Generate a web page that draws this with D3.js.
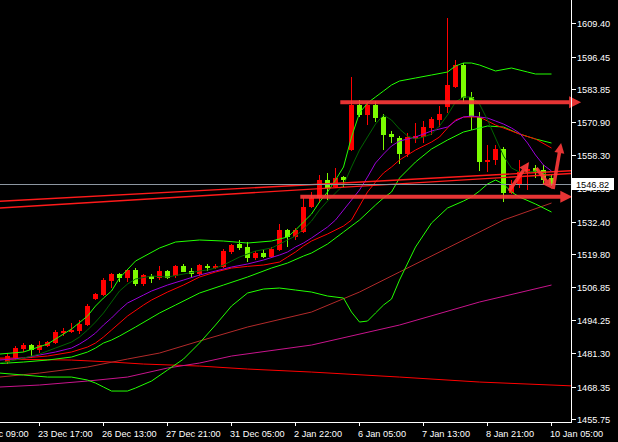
<!DOCTYPE html>
<html><head><meta charset="utf-8">
<script src="https://cdn.jsdelivr.net/npm/d3@7"></script>
<style>html,body{margin:0;padding:0;background:#000;overflow:hidden}</style>
</head><body><svg id="c" width="618" height="442"></svg>
<script>
// ---- candle data (H4 bars, index 0..68) ----
const opens=[1477.87,1479.42,1482.92,1484.47,1482.53,1484.08,1485.25,1489.13,1489.52,1489.91,
1492.24,1502.33,1503.89,1509.32,1512.04,1510.49,1513.60,1508.16,1511.27,1510.49,
1513.21,1511.27,1515.15,1513.21,1512.04,1515.15,1514.37,1514.76,1520.59,1523.69,
1522.53,1518.26,1520.20,1518.64,1521.36,1529.13,1526.41,1528.35,1538.06,1541.56,
1548.55,1545.83,1549.71,1560.20,1577.67,1573.79,1577.67,1573.01,1566.41,1564.86,
1558.64,1564.47,1565.25,1568.74,1571.85,1576.90,1584.66,1593.21,1580.78,1573.01,
1555.54,1556.31,1560.59,1543.50,1546.61,1551.27,1553.21,1552.43,1549.32];
const highs=[1481.36,1484.08,1485.25,1484.86,1486.02,1486.02,1490.29,1491.07,1493.01,1494.18,
1500.39,1504.66,1510.49,1512.43,1512.43,1513.98,1514.37,1512.04,1512.04,1515.15,
1513.60,1515.54,1515.93,1514.37,1515.93,1515.93,1515.93,1521.75,1523.69,1525.25,
1524.47,1520.97,1521.36,1522.53,1531.46,1529.52,1529.91,1541.56,1543.89,1550.49,
1551.27,1553.21,1550.10,1588.55,1579.61,1578.84,1579.23,1574.18,1567.58,1565.63,
1566.80,1570.68,1571.46,1573.01,1577.28,1611.46,1595.15,1593.98,1582.72,1574.95,
1562.14,1562.14,1561.36,1548.55,1556.31,1555.15,1554.37,1554.37,1550.49];
const lows=[1477.09,1478.64,1481.75,1479.42,1481.36,1483.69,1484.86,1487.96,1489.13,1488.74,
1491.85,1501.94,1503.50,1506.61,1508.94,1508.94,1507.38,1507.38,1508.55,1509.71,
1510.10,1510.49,1512.82,1510.88,1511.27,1513.21,1513.98,1514.37,1519.81,1521.36,
1516.70,1517.48,1518.26,1518.26,1520.97,1522.53,1525.25,1527.96,1537.67,1539.61,
1540.78,1545.44,1545.83,1559.81,1573.01,1569.91,1571.07,1560.20,1562.92,1554.76,
1557.48,1562.92,1562.92,1566.02,1569.13,1574.57,1584.28,1578.84,1567.96,1552.04,
1551.65,1554.37,1540.00,1543.11,1545.44,1544.66,1549.32,1546.61,1546.22];
const closes=[1480.20,1483.30,1484.47,1482.53,1484.47,1485.63,1489.52,1489.91,1490.29,1492.62,
1499.61,1504.28,1509.71,1512.04,1510.49,1513.60,1508.16,1511.65,1510.10,1513.21,
1510.49,1515.15,1512.82,1512.04,1515.54,1514.37,1515.15,1520.97,1523.30,1522.14,
1518.26,1520.20,1518.64,1521.75,1529.13,1526.41,1529.13,1538.06,1541.56,1548.55,
1545.44,1549.32,1548.55,1577.67,1573.79,1577.67,1572.62,1566.02,1565.25,1558.64,
1565.25,1565.63,1569.13,1572.24,1574.18,1585.44,1593.21,1580.39,1573.01,1555.54,
1556.31,1560.59,1543.50,1546.61,1551.65,1552.82,1551.65,1548.55,1546.82];
const lastPrice=1546.82;

// ---- axis labels ----
const xTickLabels=["22 Dec 09:00","23 Dec 17:00","26 Dec 13:00","27 Dec 21:00","31 Dec 05:00",
"2 Jan 22:00","6 Jan 05:00","7 Jan 13:00","8 Jan 21:00","10 Jan 05:00"];
const yTickValues=[1609.40,1596.45,1583.85,1570.90,1558.30,1545.35,1532.40,1519.80,1506.85,1494.25,1481.30,1468.35,1455.75];

// ---- indicator series: [bar index, price] ----
const bbUpper=[[-1,1480.97],[2,1481.75],[5,1484.86],[8,1490.68],[10,1495.73],[11,1499.61],[12,1502.72],[13,1505.44],[14,1510.49],[16,1517.09],[19,1522.14],[21,1524.47],[24,1525.25],[27,1524.86],[30,1524.08],[33,1524.86],[35,1526.41],[36,1529.13],[37,1532.24],[38,1535.34],[39,1540.00],[40,1543.89],[41,1548.55],[42,1553.60],[43,1565.25],[44,1574.57],[45,1578.45],[46,1580.78],[47,1583.11],[48,1585.44],[49,1586.99],[51,1588.16],[53,1589.32],[55,1590.49],[56,1592.82],[57,1593.98],[58,1593.98],[59,1593.21],[61,1590.88],[63,1592.04],[65,1590.49],[66,1589.71],[68,1589.71]];
const bbMiddle=[[-1,1477.28],[2,1477.87],[5,1478.64],[8,1479.81],[10,1481.75],[11,1483.30],[12,1485.25],[13,1486.41],[14,1487.96],[16,1491.46],[19,1496.90],[21,1500.00],[24,1504.66],[27,1507.77],[30,1510.88],[33,1514.37],[35,1516.31],[37,1519.03],[38,1520.20],[40,1523.69],[42,1528.35],[44,1533.01],[46,1538.84],[47,1541.56],[48,1543.89],[49,1549.32],[51,1555.54],[53,1560.59],[55,1564.08],[57,1567.19],[58,1567.96],[60,1569.52],[62,1569.13],[64,1566.41],[66,1564.47],[68,1562.92]];
const bbLower=[[-1,1473.59],[2,1472.82],[5,1472.04],[8,1472.04],[10,1470.88],[11,1469.71],[12,1468.16],[13,1466.61],[15,1466.61],[16,1467.77],[18,1470.49],[20,1474.76],[22,1479.03],[24,1485.25],[26,1492.24],[28,1499.61],[30,1504.66],[32,1506.22],[34,1506.61],[36,1505.83],[38,1505.05],[40,1503.50],[42,1502.72],[43,1497.28],[44,1493.40],[45,1493.79],[46,1496.90],[47,1500.00],[48,1502.33],[49,1509.71],[51,1522.53],[53,1531.85],[55,1537.67],[57,1540.39],[58,1541.95],[59,1544.28],[60,1546.99],[61,1548.55],[62,1546.99],[63,1543.89],[64,1541.95],[66,1539.23],[68,1536.12]];
const maFast=[[-1,1477.48],[1,1478.64],[4,1480.97],[6,1483.30],[8,1485.63],[9,1487.58],[10,1490.29],[11,1493.40],[12,1496.90],[13,1501.17],[14,1505.44],[15,1508.16],[16,1510.10],[18,1511.27],[20,1510.88],[22,1512.04],[24,1513.21],[25,1513.60],[26,1514.37],[27,1515.54],[28,1517.09],[29,1518.64],[30,1519.81],[31,1520.97],[33,1522.14],[34,1523.69],[35,1525.25],[36,1526.80],[37,1529.52],[38,1532.62],[39,1536.90],[40,1540.39],[41,1543.50],[42,1546.61],[43,1553.60],[44,1560.20],[45,1565.25],[46,1570.29],[47,1573.79],[48,1571.85],[49,1568.35],[50,1565.63],[51,1564.47],[52,1565.25],[53,1566.41],[54,1569.52],[55,1573.79],[56,1578.84],[57,1580.78],[58,1580.78],[59,1578.06],[60,1571.85],[61,1564.86],[62,1557.87],[63,1553.21],[64,1551.65],[65,1551.65],[66,1552.04],[67,1551.27],[68,1549.71]];
const maPurple=[[-1,1478.64],[2,1479.42],[4,1480.59],[6,1481.75],[8,1483.30],[9,1484.86],[10,1486.80],[11,1489.13],[12,1492.24],[13,1494.95],[14,1498.06],[15,1500.78],[17,1503.89],[18,1505.44],[20,1507.77],[22,1509.71],[24,1511.65],[26,1513.21],[28,1514.76],[30,1515.93],[32,1517.48],[34,1519.42],[35,1520.59],[36,1522.53],[37,1524.08],[38,1526.02],[40,1530.29],[41,1533.01],[42,1536.90],[43,1540.78],[44,1544.66],[45,1549.71],[46,1555.15],[47,1558.64],[48,1561.75],[49,1563.69],[51,1565.25],[53,1567.58],[55,1569.13],[56,1571.46],[57,1573.01],[58,1573.40],[59,1573.01],[60,1572.62],[61,1571.46],[62,1570.29],[63,1568.74],[64,1566.80],[65,1562.92],[66,1558.26],[67,1554.37],[68,1552.04]];
const maRed=[[-1,1479.42],[2,1479.42],[5,1480.20],[8,1481.75],[10,1483.69],[11,1485.25],[12,1487.58],[13,1490.29],[15,1495.73],[17,1500.00],[18,1501.94],[20,1505.05],[22,1507.77],[24,1510.88],[26,1512.82],[28,1514.37],[30,1515.01],[32,1515.54],[34,1516.70],[35,1518.64],[36,1520.59],[37,1522.92],[38,1524.86],[40,1527.58],[42,1530.68],[43,1533.01],[44,1538.45],[45,1543.89],[46,1547.77],[47,1551.27],[48,1553.60],[49,1556.31],[51,1560.20],[53,1563.30],[54,1565.25],[55,1568.74],[56,1571.85],[57,1573.01],[59,1573.01],[60,1571.46],[61,1569.91],[63,1567.58],[64,1566.41],[66,1564.47],[68,1560.97]];
const maBrown=[[-1,1472.04],[4,1473.59],[10,1475.93],[15,1479.03],[19,1481.36],[24,1486.02],[30,1491.46],[38,1497.28],[44,1505.05],[49,1512.82],[55,1522.14],[62,1533.01],[68,1539.61]];
const maMagenta=[[-1,1468.16],[4,1468.94],[10,1470.49],[15,1472.04],[20,1475.54],[24,1477.48],[28,1480.20],[38,1484.47],[49,1492.24],[59,1501.17],[68,1507.77]];
const maRedLong=[[-1,1479.03],[8,1478.64],[13,1477.87],[17,1477.09],[24,1476.31],[30,1475.15],[38,1473.98],[49,1472.04],[59,1470.10],[71,1468.55]];

// ---- drawn objects (time index, price anchors) ----
const trendLines=[[[-1,1540.28],[71,1552.24]],[[-1,1537.67],[71,1551.19]]];
const hArrows=[[[41.6,1578.75],[71.7,1578.75]],[[36.6,1542.06],[70.6,1542.06]]];
const dArrows=[[[62.7,1544.28],[65.2,1555.54]],[[66.1,1553.21],[68.1,1545.05]],[[68.2,1545.05],[69.2,1562.92]]];

// ---- drawing ----
const W=618,H=442,plotR=571,plotB=422;
const x=d3.scaleLinear().domain([0,68]).range([7.5,551.5]);
const y=d3.scaleLinear().domain([1455.75,1609.40]).range([419,23.3]);
const svg=d3.select('#c');
svg.append('rect').attr('width',W).attr('height',H).attr('fill','#000');
svg.append('defs').append('clipPath').attr('id','plot').append('rect')
  .attr('x',0).attr('y',0).attr('width',plotR).attr('height',plotB);
const g=svg.append('g').attr('clip-path','url(#plot)');

// candles
const idx=d3.range(opens.length);
const BULL='#ff0000', BEAR='#7cfc00';
const cg=g.append('g');
cg.selectAll('line.w').data(idx).join('line').attr('class','w')
  .attr('x1',i=>x(i)).attr('x2',i=>x(i))
  .attr('y1',i=>y(highs[i])).attr('y2',i=>y(lows[i]))
  .attr('stroke',i=>closes[i]>opens[i]?BULL:BEAR).attr('stroke-width',1)
  .attr('shape-rendering','crispEdges');
cg.selectAll('rect.b').data(idx).join('rect').attr('class','b')
  .attr('x',i=>x(i)-2.5).attr('width',5)
  .attr('y',i=>y(Math.max(opens[i],closes[i])))
  .attr('height',i=>Math.max(1,Math.abs(y(opens[i])-y(closes[i]))))
  .attr('fill',i=>closes[i]>opens[i]?BULL:BEAR)
  .attr('shape-rendering','crispEdges');

// indicator lines
const line=d3.line().x(d=>x(d[0])).y(d=>y(d[1]));
const series=[
  [maRedLong,'#ff0000'],[maMagenta,'#c8148c'],[maBrown,'#b22a2a'],
  [bbLower,'#22ff00'],[bbMiddle,'#22ff00'],[bbUpper,'#22ff00'],
  [maRed,'#ff0000'],[maPurple,'#9a00d8'],[maFast,'#006400']
];
series.forEach(([d,c])=>{
  g.append('path').attr('d',line(d)).attr('fill','none').attr('stroke',c).attr('stroke-width',1);
});

// trend lines
trendLines.forEach(d=>{
  g.append('path').attr('d',line(d)).attr('fill','none').attr('stroke','#ff1a1a').attr('stroke-width',1.4);
});

// bid line
g.append('line').attr('x1',0).attr('x2',plotR).attr('y1',Math.round(y(lastPrice))+0.5).attr('y2',Math.round(y(lastPrice))+0.5)
  .attr('stroke','#8c96a0').attr('stroke-width',1);

// arrows
const AC='#ff3a3a';
const al=svg.append('g').attr('opacity',0.9);
function arrow(p1,p2,w,hl,hw){
  const x1=x(p1[0]),y1=y(p1[1]),x2=x(p2[0]),y2=y(p2[1]);
  const dx=x2-x1,dy=y2-y1,L=Math.hypot(dx,dy),ux=dx/L,uy=dy/L;
  const bx=x2-ux*hl,by=y2-uy*hl;
  al.append('line').attr('x1',x1).attr('y1',y1).attr('x2',bx+ux*1).attr('y2',by+uy*1)
    .attr('stroke',AC).attr('stroke-width',w);
  al.append('path').attr('d',`M${x2},${y2}L${bx-uy*hw},${by+ux*hw}L${bx+uy*hw},${by-ux*hw}Z`).attr('fill',AC);
}
hArrows.forEach(a=>arrow(a[0],a[1],4,12,6));
dArrows.forEach(a=>arrow(a[0],a[1],3.5,10,5));

// axes
const ax=svg.append('g');
ax.append('line').attr('x1',plotR+0.5).attr('x2',plotR+0.5).attr('y1',0).attr('y2',plotB+0.5)
  .attr('stroke','#fff').attr('stroke-width',1).attr('shape-rendering','crispEdges');
ax.append('line').attr('x1',0).attr('x2',plotR+0.5).attr('y1',plotB+0.5).attr('y2',plotB+0.5)
  .attr('stroke','#fff').attr('stroke-width',1).attr('shape-rendering','crispEdges');
const font='"Liberation Sans", Arial, sans-serif';
yTickValues.forEach(v=>{
  const yy=Math.round(y(v))+0.5;
  ax.append('line').attr('x1',plotR+0.5).attr('x2',plotR+4.5).attr('y1',yy).attr('y2',yy)
    .attr('stroke','#fff').attr('shape-rendering','crispEdges');
  ax.append('text').attr('x',577).attr('y',yy+3.3).text(v.toFixed(2))
    .attr('fill','#fff').attr('font-family',font).attr('font-size','9.2px');
});
xTickLabels.forEach((t,k)=>{
  const bi=-4+8*k, xx=x(bi);
  ax.append('line').attr('x1',xx).attr('x2',xx).attr('y1',plotB+0.5).attr('y2',plotB+4)
    .attr('stroke','#fff').attr('shape-rendering','crispEdges');
  ax.append('text').attr('x',xx-1.5).attr('y',437).text(t)
    .attr('fill','#fff').attr('font-family',font).attr('font-size','9.2px');
});
// last price box
const ly=Math.round(y(lastPrice));
ax.append('rect').attr('x',572).attr('y',ly-6).attr('width',42).attr('height',12).attr('fill','#fff');
ax.append('text').attr('x',576).attr('y',ly+3.5).text(lastPrice.toFixed(2))
  .attr('fill','#000').attr('font-family',font).attr('font-size','9.2px');
</script>
</body></html>
